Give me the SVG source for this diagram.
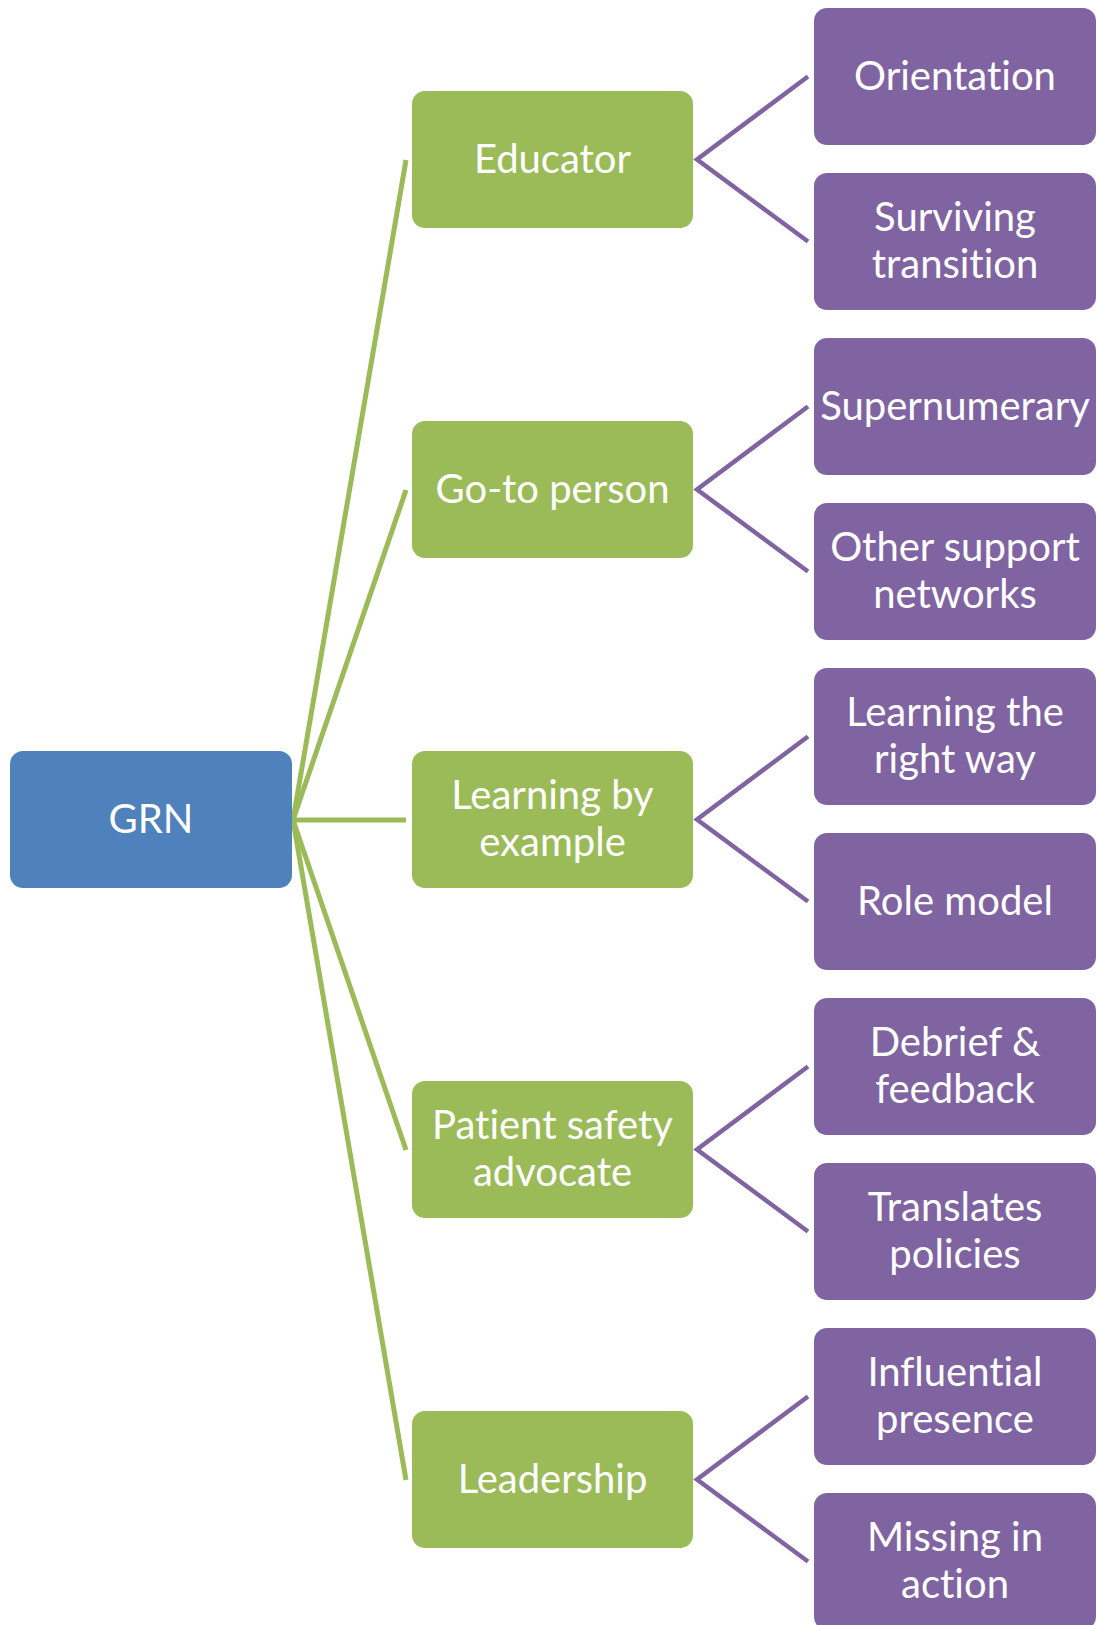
<svg xmlns="http://www.w3.org/2000/svg" width="1096" height="1625" viewBox="0 0 1096 1625">
  <style>
    .box { stroke: none; }
    .root { fill: #4F81BD; }
    .lvl1 { fill: #9BBB59; }
    .lvl2 { fill: #8064A2; }
    .lbl { font-family: Lato, "Open Sans", "Liberation Sans", sans-serif; font-size: 40px; fill: #ffffff; text-anchor: middle; font-variant-ligatures: none; font-feature-settings: "liga" 0, "clig" 0; }
    .c1 { stroke: #9BBB59; stroke-width: 5; fill: none; }
    .c2 { stroke: #8064A2; stroke-width: 4.5; fill: none; }
  </style>
  <rect width="1096" height="1625" fill="#ffffff"/>

  <!-- connectors -->
  <g id="connectors">
    <line class="c1" x1="293" y1="820" x2="406" y2="160"/>
    <line class="c1" x1="293" y1="820" x2="406" y2="490"/>
    <line class="c1" x1="293" y1="820" x2="406" y2="820"/>
    <line class="c1" x1="293" y1="820" x2="406" y2="1150"/>
    <line class="c1" x1="293" y1="820" x2="406" y2="1480"/>

    <polyline class="c2" points="808,76.5 697,159.5 808,241.5"/>
    <polyline class="c2" points="808,406.5 697,489.5 808,571.5"/>
    <polyline class="c2" points="808,736.5 697,819.5 808,901.5"/>
    <polyline class="c2" points="808,1066.5 697,1149.5 808,1231.5"/>
    <polyline class="c2" points="808,1396.5 697,1479.5 808,1561.5"/>
  </g>

  <!-- root -->
  <g id="grn">
    <rect class="box root" x="10" y="751" width="282" height="137" rx="13"/>
    <text class="lbl" x="151" y="833">GRN</text>
  </g>

  <!-- level 1 -->
  <g id="educator">
    <rect class="box lvl1" x="412" y="91" width="281" height="137" rx="13"/>
    <text class="lbl" x="552.5" y="173">Educator</text>
  </g>
  <g id="go-to-person">
    <rect class="box lvl1" x="412" y="421" width="281" height="137" rx="13"/>
    <text class="lbl" x="552.5" y="503">Go-to person</text>
  </g>
  <g id="learning-by-example">
    <rect class="box lvl1" x="412" y="751" width="281" height="137" rx="13"/>
    <text class="lbl" x="552.5" y="809">Learning by</text>
    <text class="lbl" x="552.5" y="856">example</text>
  </g>
  <g id="patient-safety-advocate">
    <rect class="box lvl1" x="412" y="1081" width="281" height="137" rx="13"/>
    <text class="lbl" x="552.5" y="1139">Patient safety</text>
    <text class="lbl" x="552.5" y="1186">advocate</text>
  </g>
  <g id="leadership">
    <rect class="box lvl1" x="412" y="1411" width="281" height="137" rx="13"/>
    <text class="lbl" x="552.5" y="1493">Leadership</text>
  </g>

  <!-- level 2 -->
  <g id="orientation">
    <rect class="box lvl2" x="814" y="8" width="282" height="137" rx="13"/>
    <text class="lbl" x="955" y="90">Orientation</text>
  </g>
  <g id="surviving-transition">
    <rect class="box lvl2" x="814" y="173" width="282" height="137" rx="13"/>
    <text class="lbl" x="955" y="231">Surviving</text>
    <text class="lbl" x="955" y="278">transition</text>
  </g>
  <g id="supernumerary">
    <rect class="box lvl2" x="814" y="338" width="282" height="137" rx="13"/>
    <text class="lbl" x="955" y="420">Supernumerary</text>
  </g>
  <g id="other-support-networks">
    <rect class="box lvl2" x="814" y="503" width="282" height="137" rx="13"/>
    <text class="lbl" x="955" y="561">Other support</text>
    <text class="lbl" x="955" y="608">networks</text>
  </g>
  <g id="learning-the-right-way">
    <rect class="box lvl2" x="814" y="668" width="282" height="137" rx="13"/>
    <text class="lbl" x="955" y="726">Learning the</text>
    <text class="lbl" x="955" y="773">right way</text>
  </g>
  <g id="role-model">
    <rect class="box lvl2" x="814" y="833" width="282" height="137" rx="13"/>
    <text class="lbl" x="955" y="915">Role model</text>
  </g>
  <g id="debrief-feedback">
    <rect class="box lvl2" x="814" y="998" width="282" height="137" rx="13"/>
    <text class="lbl" x="955" y="1056">Debrief &amp;</text>
    <text class="lbl" x="955" y="1103">feedback</text>
  </g>
  <g id="translates-policies">
    <rect class="box lvl2" x="814" y="1163" width="282" height="137" rx="13"/>
    <text class="lbl" x="955" y="1221">Translates</text>
    <text class="lbl" x="955" y="1268">policies</text>
  </g>
  <g id="influential-presence">
    <rect class="box lvl2" x="814" y="1328" width="282" height="137" rx="13"/>
    <text class="lbl" x="955" y="1386">Influential</text>
    <text class="lbl" x="955" y="1433">presence</text>
  </g>
  <g id="missing-in-action">
    <rect class="box lvl2" x="814" y="1493" width="282" height="137" rx="13"/>
    <text class="lbl" x="955" y="1551">Missing in</text>
    <text class="lbl" x="955" y="1598">action</text>
  </g>
</svg>
